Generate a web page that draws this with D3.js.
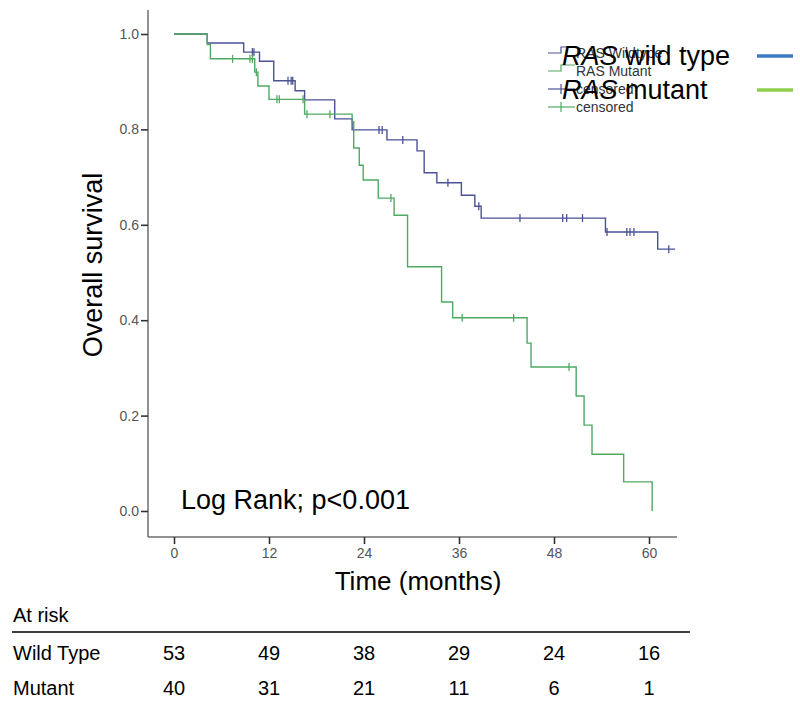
<!DOCTYPE html>
<html><head><meta charset="utf-8">
<script src="https://cdn.jsdelivr.net/npm/d3@7"></script>
<style>body{margin:0;background:#fff}svg{display:block}text{font-family:"Liberation Sans",Arial,sans-serif}</style>
</head><body>
<script>
// ---- data ----
const xTicks = [0, 12, 24, 36, 48, 60];
const yTicks = [0.0, 0.2, 0.4, 0.6, 0.8, 1.0];
// Wild type: [time, survival after step]
const wildTimes = [0, 4.2, 8.8, 10.8, 12.6, 15.3, 16.5, 20.3, 22.5, 26.9, 30.7, 31.6, 33.2, 36.3, 38.0, 38.8, 54.5, 61.1, 63.3];
const wildSurv  = [1.0, 0.981, 0.962, 0.943, 0.902, 0.881, 0.862, 0.822, 0.799, 0.778, 0.755, 0.709, 0.688, 0.662, 0.639, 0.614, 0.585, 0.549, 0.549];
const wildCensored = [9.9, 10.1, 14.4, 14.8, 15.0, 25.9, 26.3, 28.9, 34.6, 38.5, 43.7, 49.1, 49.6, 51.6, 54.7, 57.2, 57.6, 58.1, 62.5];
// Mutant
const mutTimes = [0, 4.2, 4.6, 10.2, 10.6, 12.0, 16.5, 22.5, 22.7, 23.4, 23.9, 25.8, 27.8, 29.5, 33.8, 35.2, 44.6, 45.1, 50.8, 51.8, 52.8, 56.8, 60.4];
const mutSurv  = [1.0, 0.978, 0.948, 0.92, 0.891, 0.863, 0.832, 0.816, 0.761, 0.725, 0.694, 0.656, 0.62, 0.512, 0.438, 0.405, 0.352, 0.302, 0.241, 0.18, 0.119, 0.061, 0.0];
const mutCensored = [7.4, 9.6, 9.9, 10.4, 13.0, 13.3, 16.3, 16.8, 19.7, 27.4, 36.4, 42.9, 49.9];
// At-risk table
const riskGroups = ["Wild Type", "Mutant"];
const riskWild = [53, 49, 38, 29, 24, 16];
const riskMut = [40, 31, 21, 11, 6, 1];

const W = 800, H = 701;
const svg = d3.select("body").append("svg").attr("width", W).attr("height", H);

const x = d3.scaleLinear().domain([0, 60]).range([174, 649]);
const y = d3.scaleLinear().domain([0, 1]).range([511, 34]);
const axisColor = "#6e6e6e";

// axes lines
svg.append("line").attr("x1", 148).attr("x2", 148).attr("y1", 10).attr("y2", 537).attr("stroke", axisColor).attr("stroke-width", 1.5);
svg.append("line").attr("x1", 148).attr("x2", 677).attr("y1", 537).attr("y2", 537).attr("stroke", axisColor).attr("stroke-width", 1.5);

const yAxis = d3.axisLeft(y).tickValues(yTicks).tickFormat(d3.format(".1f")).tickSize(7).tickPadding(2);
const gy = svg.append("g").attr("transform", "translate(148,0)").call(yAxis);
const xAxis = d3.axisBottom(x).tickValues(xTicks).tickSize(7).tickPadding(4);
const gx = svg.append("g").attr("transform", "translate(0,537)").call(xAxis);
[gy, gx].forEach(g => {
  g.select(".domain").remove();
  g.selectAll(".tick line").attr("stroke", "#333").attr("stroke-width", 1.6);
  g.selectAll(".tick text").attr("fill", "#555").attr("font-size", 14).style("font-family", "'Liberation Sans', Arial, sans-serif");
});

// curves
const line = d3.line().x(d => x(d[0])).y(d => y(d[1])).curve(d3.curveStepAfter);
function stepVal(times, surv, t) {
  let v = surv[0];
  for (let i = 0; i < times.length; i++) if (times[i] <= t) v = surv[i];
  return v;
}
const series = [
  {times: wildTimes, surv: wildSurv, cens: wildCensored, color: "#4b5296"},
  {times: mutTimes, surv: mutSurv, cens: mutCensored, color: "#4faa63"}
];
series.forEach(s => {
  const pts = s.times.map((t, i) => [t, s.surv[i]]);
  svg.append("path").attr("d", line(pts)).attr("fill", "none").attr("stroke", s.color).attr("stroke-width", 1.4);
  svg.selectAll(null).data(s.cens).enter().append("line")
    .attr("x1", d => x(d)).attr("x2", d => x(d))
    .attr("y1", d => y(stepVal(s.times, s.surv, d)) - 4)
    .attr("y2", d => y(stepVal(s.times, s.surv, d)) + 4)
    .attr("stroke", s.color).attr("stroke-width", 1.3);
});

// y label
svg.append("text").attr("transform", "translate(102,265) rotate(-90)").attr("text-anchor", "middle")
  .attr("font-size", 27).attr("fill", "#000").text("Overall survival");
// x label
svg.append("text").attr("x", 418).attr("y", 590).attr("text-anchor", "middle").attr("font-size", 26).attr("fill", "#000").text("Time (months)");
// log rank
svg.append("text").attr("x", 181).attr("y", 509).attr("font-size", 27).attr("fill", "#000").text("Log Rank; p<0.001");

// small SPSS legend
const lg = svg.append("g");
const smallRows = [
  {yy: 53, type: "step", color: "#4b5296", label: "RAS Wildtype"},
  {yy: 71, type: "step", color: "#4faa63", label: "RAS Mutant"},
  {yy: 89, type: "cens", color: "#4b5296", label: "censored"},
  {yy: 107, type: "cens", color: "#4faa63", label: "censored"}
];
smallRows.forEach(r => {
  if (r.type === "step") {
    lg.append("path").attr("d", `M548,${r.yy}H561V${r.yy - 6}H575`).attr("fill", "none").attr("stroke", r.color).attr("stroke-width", 1.2);
  } else {
    lg.append("line").attr("x1", 548).attr("x2", 575).attr("y1", r.yy).attr("y2", r.yy).attr("stroke", r.color).attr("stroke-width", 1.2);
    lg.append("line").attr("x1", 561).attr("x2", 561).attr("y1", r.yy - 5).attr("y2", r.yy + 5).attr("stroke", r.color).attr("stroke-width", 1.2);
  }
  lg.append("text").attr("x", 576).attr("y", r.yy + 5).attr("font-size", 14).attr("fill", "#333").text(r.label);
});

// big legend
const bigRows = [
  {yy: 65, lineY: 56, color: "#3b78c4", rest: " wild type"},
  {yy: 99, lineY: 90, color: "#8dcf4c", rest: " mutant"}
];
bigRows.forEach(r => {
  const t = svg.append("text").attr("x", 562).attr("y", r.yy).attr("font-size", 27).attr("fill", "#000");
  t.append("tspan").attr("font-style", "italic").text("RAS");
  t.append("tspan").text(r.rest);
  svg.append("line").attr("x1", 757).attr("x2", 793).attr("y1", r.lineY).attr("y2", r.lineY).attr("stroke", r.color).attr("stroke-width", 3.5);
});

// at risk table
svg.append("text").attr("x", 13).attr("y", 622).attr("font-size", 20).attr("fill", "#000").text("At risk");
svg.append("line").attr("x1", 12).attr("x2", 690).attr("y1", 632).attr("y2", 632).attr("stroke", "#000").attr("stroke-width", 1.3);
[riskWild, riskMut].forEach((vals, gi) => {
  const yy = 660 + gi * 35;
  svg.append("text").attr("x", 13).attr("y", yy).attr("font-size", 20).attr("fill", "#000").text(riskGroups[gi]);
  svg.selectAll(null).data(vals).enter().append("text")
    .attr("x", (d, i) => x(xTicks[i])).attr("y", yy).attr("text-anchor", "middle")
    .attr("font-size", 20).attr("fill", "#000").text(d => d);
});
</script>
</body></html>
